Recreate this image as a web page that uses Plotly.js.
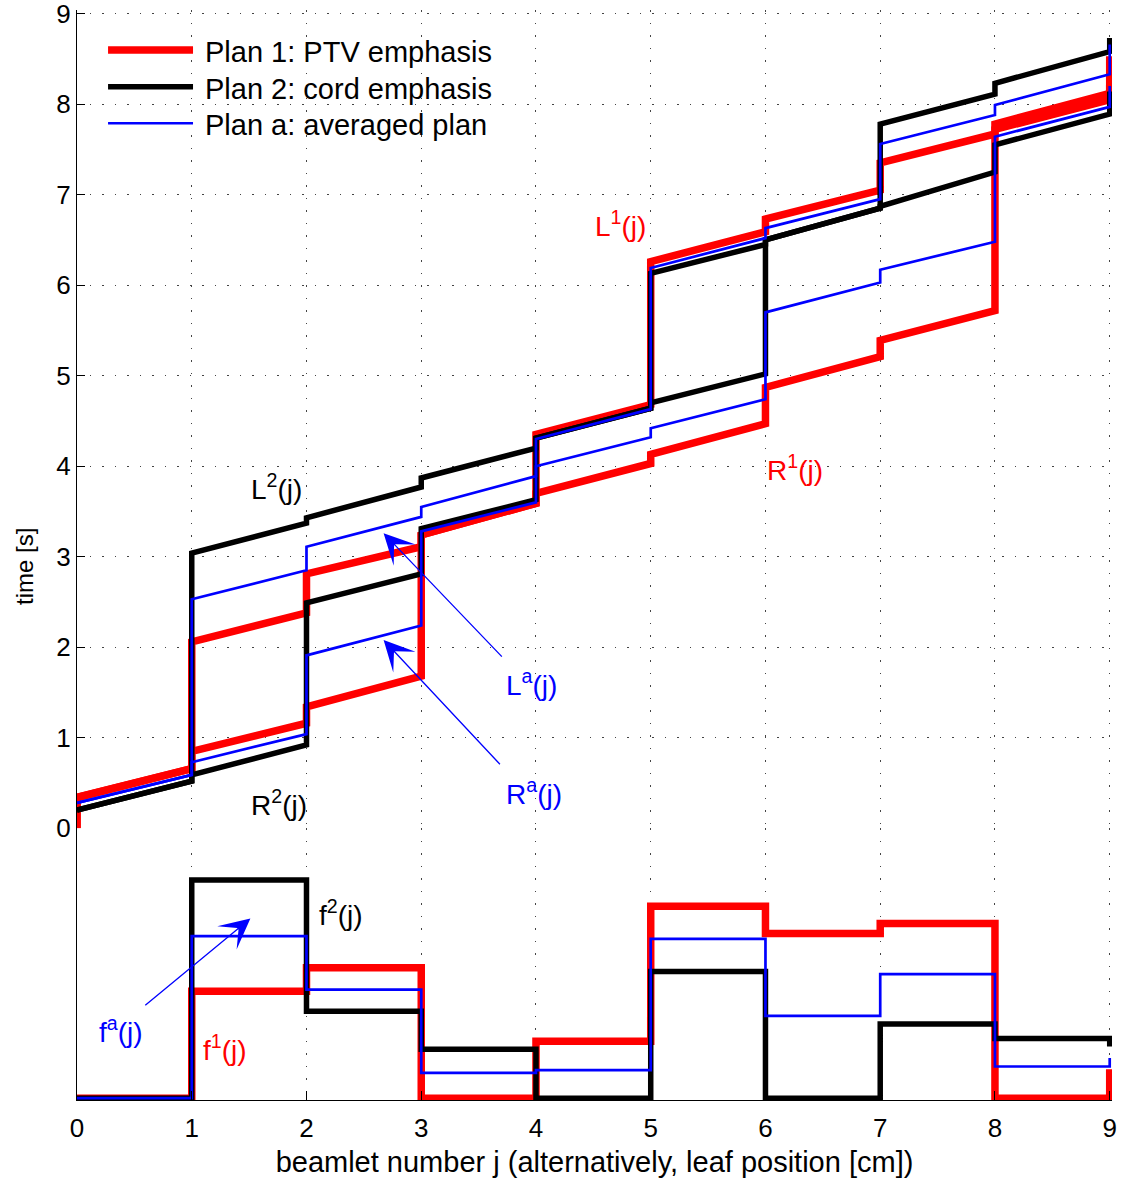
<!DOCTYPE html>
<html>
<head>
<meta charset="utf-8">
<script src="https://cdn.plot.ly/plotly-3.0.1.min.js"></script>
<style>html,body{margin:0;padding:0;background:#fff;}</style>
</head>
<body>
<div id="chart" style="width:1122px;height:1183px;"></div>
<script>
// ---------------- data ----------------
const beamlets = [0, 1, 2, 3, 4, 5, 6, 7, 8, 9];
const xTickLabels = ['0', '1', '2', '3', '4', '5', '6', '7', '8', '9'];
const timeTicks = [0, 1, 2, 3, 4, 5, 6, 7, 8, 9];

// Plan 1 (PTV emphasis): leaf trajectories, value at start / end of each beamlet
const L1_start = [0.34, 2.06, 2.81, 3.24, 4.35, 6.26, 6.73, 7.35, 7.78];
const L1_end   = [0.66, 2.38, 3.11, 3.59, 4.68, 6.59, 7.05, 7.67, 8.12];
const R1_start = [0.34, 0.85, 1.34, 3.24, 3.70, 4.13, 4.87, 5.39, 7.72];
const R1_end   = [0.66, 1.16, 1.68, 3.59, 4.03, 4.47, 5.21, 5.72, 8.05];
const L1_pre = 0.0, R1_pre = 0.0, L1_post = 8.53, R1_post = 8.22;

// Plan 2 (cord emphasis)
const L2_start = [0.20, 3.04, 3.43, 3.87, 4.31, 6.13, 6.50, 7.78, 8.23];
const L2_end   = [0.52, 3.37, 3.77, 4.20, 4.64, 6.45, 6.85, 8.11, 8.58];
const R2_start = [0.20, 0.59, 2.49, 3.31, 4.31, 4.70, 6.50, 6.87, 7.55];
const R2_end   = [0.52, 0.92, 2.81, 3.63, 4.64, 5.02, 6.85, 7.25, 7.89];
const L2_post = 8.73, R2_post = 8.14;

// Plan a (averaged plan)
const La_start = [0.28, 2.53, 3.11, 3.55, 4.30, 6.19, 6.63, 7.56, 7.99];
const La_end   = [0.59, 2.85, 3.44, 3.89, 4.63, 6.52, 6.95, 7.88, 8.33];
const Ra_start = [0.28, 0.73, 1.91, 3.28, 4.00, 4.42, 5.70, 6.17, 7.64];
const Ra_end   = [0.59, 1.04, 2.24, 3.60, 4.32, 4.74, 6.03, 6.48, 7.97];
const La_post = 8.66, Ra_post = 8.20;

// fluence profiles f(j) per beamlet (lower panel)
const f1 = [0, 1.18, 1.44, 0, 0.63, 2.12, 1.82, 1.93, 0];
const f2 = [0, 2.41, 0.96, 0.54, 0, 1.40, 0, 0.82, 0.66];
const fa = [0, 1.79, 1.20, 0.28, 0.31, 1.76, 0.91, 1.37, 0.35];
const f1_end = 0.32, f2_end = 0.57, fa_end = 0.445;

const seriesNames = ['Plan 1: PTV emphasis', 'Plan 2: cord emphasis', 'Plan a: averaged plan'];
const seriesColors = ['#ff0000', '#000000', '#0000ff'];
const seriesWidths = [7.5, 5.5, 2.7];

// ---------------- build ----------------
function trajectory(pre, start, end, post) {
  const x = [], y = [];
  if (pre !== null) { x.push(beamlets[0]); y.push(pre); }
  for (let k = 0; k < start.length; k++) {
    x.push(beamlets[k], beamlets[k + 1]);
    y.push(start[k], end[k]);
  }
  if (post !== null) { x.push(beamlets[beamlets.length - 1]); y.push(post); }
  return {x, y};
}
function steps(f, fEnd) {
  const x = [], y = [];
  for (let k = 0; k < f.length; k++) {
    x.push(beamlets[k], beamlets[k + 1]);
    y.push(f[k], f[k]);
  }
  x.push(beamlets[beamlets.length - 1]); y.push(fEnd);
  return {x, y};
}

const traces = [];
function addTop(p, i, name) {
  traces.push({type: 'scatter', mode: 'lines', x: p.x, y: p.y, xaxis: 'x2', yaxis: 'y',
    name: name, showlegend: false, hoverinfo: 'skip',
    line: {color: seriesColors[i], width: seriesWidths[i]}});
}
function addBottom(p, i, name) {
  traces.push({type: 'scatter', mode: 'lines', x: p.x, y: p.y, xaxis: 'x', yaxis: 'y2',
    name: name, showlegend: false, hoverinfo: 'skip',
    line: {color: seriesColors[i], width: seriesWidths[i]}});
}
// order: red, black, blue (blue on top)
addTop(trajectory(L1_pre, L1_start, L1_end, L1_post), 0, 'L1');
addTop(trajectory(R1_pre, R1_start, R1_end, R1_post), 0, 'R1');
addBottom(steps(f1, f1_end), 0, 'f1');
addTop(trajectory(null, L2_start, L2_end, L2_post), 1, 'L2');
addTop(trajectory(null, R2_start, R2_end, R2_post), 1, 'R2');
addBottom(steps(f2, f2_end), 1, 'f2');
addTop(trajectory(null, La_start, La_end, La_post), 2, 'La');
addTop(trajectory(null, Ra_start, Ra_end, Ra_post), 2, 'Ra');
addBottom(steps(fa, fa_end), 2, 'fa');

const FONT = 'Liberation Sans, Arial, Helvetica, sans-serif';
const gridDash = '1.5px,11px';
const gridColor = '#444';

// annotations
const annotations = [];
function label(text, xref, yref, x, y, color) {
  annotations.push({text: text, xref: xref, yref: yref, x: x, y: y, showarrow: false,
    xanchor: 'center', yanchor: 'middle', font: {family: FONT, size: 28, color: color}});
}
label('L<sup>1</sup>(j)', 'x2', 'y', 4.74, 6.68, '#ff0000');
label('R<sup>1</sup>(j)', 'x2', 'y', 6.26, 3.98, '#ff0000');
label('L<sup>2</sup>(j)', 'x2', 'y', 1.74, 3.77, '#000000');
label('R<sup>2</sup>(j)', 'x2', 'y', 1.76, 0.28, '#000000');
label('L<sup>a</sup>(j)', 'x2', 'y', 3.96, 1.60, '#0000ff');
label('R<sup>a</sup>(j)', 'x2', 'y', 3.98, 0.40, '#0000ff');
label('f<sup>2</sup>(j)', 'x', 'y2', 2.30, 2.05, '#000000');
label('f<sup>a</sup>(j)', 'x', 'y2', 0.38, 0.75, '#0000ff');
label('f<sup>1</sup>(j)', 'x', 'y2', 1.29, 0.55, '#ff0000');

function arrow(xref, yref, x, y, ax, ay) {
  annotations.push({text: '', xref: xref, yref: yref, axref: xref, ayref: yref,
    x: x, y: y, ax: ax, ay: ay, showarrow: true, arrowhead: 3, arrowsize: 3.9,
    arrowwidth: 1.3, arrowcolor: '#0000ff', standoff: 0});
}
arrow('x2', 'y', 2.672, 3.26, 3.715, 1.88);
arrow('x2', 'y', 2.672, 2.08, 3.698, 0.69);
arrow('x', 'y2', 1.511, 1.985, 0.582, 1.012);

// layout geometry (plot area 77..1112 px wide, 10..1100 px tall)
const splitFrac = 0.2493;

// legend (drawn in paper coordinates)
const shapes = [];
const legendY = [0.9633, 0.9296, 0.8961];
for (let i = 0; i < 3; i++) {
  shapes.push({type: 'line', xref: 'paper', yref: 'paper', x0: 0.030, x1: 0.1121,
    y0: legendY[i], y1: legendY[i], line: {color: seriesColors[i], width: seriesWidths[i]}});
  annotations.push({text: seriesNames[i], xref: 'paper', yref: 'paper', x: 0.1215, y: legendY[i],
    yshift: -2, xanchor: 'left', yanchor: 'middle', showarrow: false,
    font: {family: FONT, size: 29, color: '#000'}});
}
// y-axis title, centred on the full (two-panel) axes height as in the reference
annotations.push({text: 'time [s]', xref: 'paper', yref: 'paper', x: 0, y: 0.489,
  xanchor: 'center', yanchor: 'middle', xshift: -52, textangle: -90, showarrow: false,
  font: {family: FONT, size: 24, color: '#000'}});

const layout = {
  width: 1122, height: 1183,
  margin: {l: 77, r: 10, t: 10, b: 83, pad: 0},
  paper_bgcolor: '#fff', plot_bgcolor: '#fff',
  font: {family: FONT, size: 26, color: '#000'},
  showlegend: false,
  xaxis: {domain: [0, 1], anchor: 'y2', range: [0, 9.02], tickvals: beamlets, ticktext: xTickLabels,
    ticks: 'inside', ticklen: 9, tickwidth: 1, tickcolor: '#000', ticklabelstandoff: 5,
    ticklabeloverflow: 'allow',
    showline: true, linecolor: '#000', linewidth: 1.2, zeroline: false,
    showgrid: true, gridcolor: gridColor, griddash: gridDash, gridwidth: 1,
    tickfont: {family: FONT, size: 26, color: '#000'},
    title: {text: 'beamlet number j (alternatively, leaf position [cm])', standoff: 9,
      font: {family: FONT, size: 29, color: '#000'}}},
  xaxis2: {domain: [0, 1], anchor: 'y', matches: 'x', range: [0, 9.02], tickvals: beamlets,
    showticklabels: false, ticks: '', showline: false, zeroline: false,
    showgrid: true, gridcolor: gridColor, griddash: gridDash, gridwidth: 1},
  yaxis: {domain: [splitFrac, 1], anchor: 'x2', range: [0, 9.04], tickvals: timeTicks,
    ticks: 'inside', ticklen: 8, tickwidth: 1, tickcolor: '#000',
    ticklabeloverflow: 'allow',
    showline: true, linecolor: '#000', linewidth: 1.2, zeroline: false,
    showgrid: true, gridcolor: gridColor, griddash: gridDash, gridwidth: 1,
    tickfont: {family: FONT, size: 26, color: '#000'}},
  yaxis2: {domain: [0, splitFrac], anchor: 'x', range: [-0.02, 2.982],
    showticklabels: false, ticks: '', showline: true, linecolor: '#000', linewidth: 1.2,
    zeroline: false, showgrid: false},
  annotations: annotations,
  shapes: shapes
};

Plotly.newPlot('chart', traces, layout, {displayModeBar: false, staticPlot: true});
</script>
</body>
</html>
